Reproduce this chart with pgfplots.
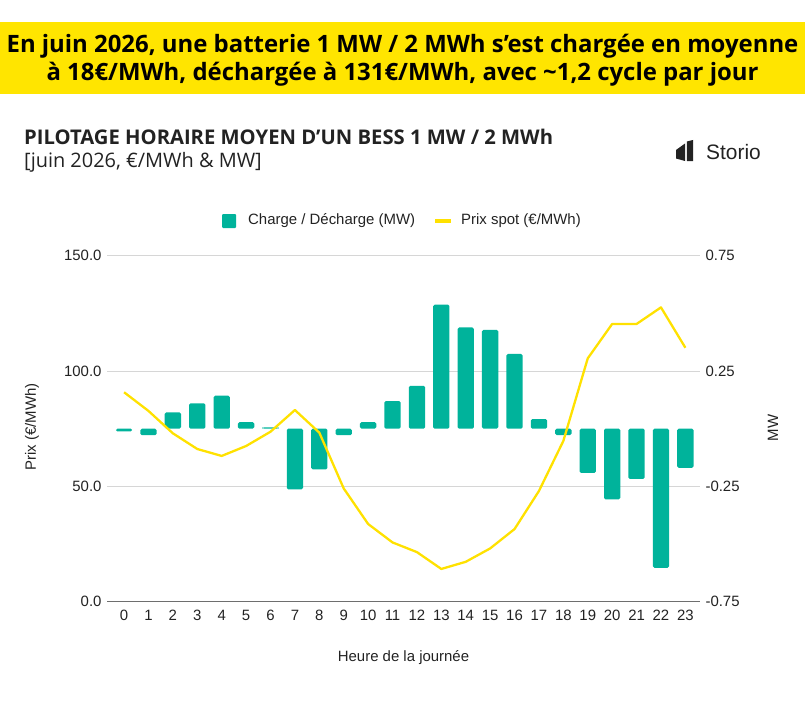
\documentclass[border=0pt]{standalone}
\usepackage{fontspec}
\setmainfont{Liberation Sans}
\newfontfamily\osans{Open Sans}
\usepackage{pgfplots}
\pgfplotsset{compat=1.18}
\usepackage{pgfplotstable}
\definecolor{barc}{HTML}{00B39B}
\definecolor{yel}{HTML}{FFE500}
\definecolor{lyel}{HTML}{FFE100}
\definecolor{gridc}{HTML}{D6D6D6}
\definecolor{txt}{HTML}{222222}
\definecolor{axc}{HTML}{6E6E6E}

\pgfplotstableread{
h mw price
0 -0.012 90.8
1 -0.028 82.7
2 0.071 73.0
3 0.110 66.2
4 0.143 63.2
5 0.028 67.5
6 0.006 73.7
7 -0.263 83.1
8 -0.176 73.3
9 -0.028 49.1
10 0.028 33.7
11 0.120 25.7
12 0.186 21.5
13 0.538 14.2
14 0.439 17.3
15 0.428 23.1
16 0.324 31.5
17 0.042 48.0
18 -0.028 69.7
19 -0.192 105.5
20 -0.306 120.4
21 -0.218 120.4
22 -0.603 127.6
23 -0.170 110.1
}\data

\begin{document}
\begin{tikzpicture}[x=1bp,y=-1bp]
\path[use as bounding box] (0,0) rectangle (805,709);
% banner
\fill[yel] (0,21.7) rectangle (805,94.3);
\node[anchor=base, inner sep=0, font=\osans\bfseries\fontsize{24}{28}\selectfont, text=black] at (402.5,53) {En juin 2026, une batterie 1 MW / 2 MWh s’est chargée en moyenne};
\node[anchor=base, inner sep=0, font=\osans\bfseries\fontsize{24}{28}\selectfont, text=black] at (402.5,81) {à 18€/MWh, déchargée à 131€/MWh, avec \textasciitilde1,2 cycle par jour};
% titles
\node[anchor=base west, inner sep=0, font=\osans\bfseries\fontsize{20.3}{22}\selectfont, text=txt] at (24,145) {PILOTAGE HORAIRE MOYEN D’UN BESS 1 MW / 2 MWh};
\node[anchor=base west, inner sep=0, font=\osans\fontsize{20}{22}\selectfont, text=txt] at (24,167) {[juin 2026, €/MWh \& MW]};
% logo
\fill[txt] (676,150) -- (685,143.5) -- (685,161) -- (676,158.5) -- cycle;
\fill[txt] (686.8,141.5) -- (693,140) -- (693,161) -- (686.8,161) -- cycle;
\node[anchor=base west, inner sep=0, font=\fontsize{21}{21}\selectfont, text=txt] at (706,160) {Storio};
% legend
\fill[barc, rounded corners=1bp] (222,214) rectangle (236,228);
\node[anchor=west, inner sep=0, font=\fontsize{15}{15}\selectfont, text=txt] at (248,221) {Charge / Décharge (MW)};
\draw[lyel, line width=3.5bp] (435,221) -- (451,221);
\node[anchor=west, inner sep=0, font=\fontsize{15}{15}\selectfont, text=txt] at (461,221) {Prix spot (€/MWh)};
% axis titles
\node[rotate=90, inner sep=0, font=\fontsize{15}{15}\selectfont, text=txt] at (32,427) {Prix (€/MWh)};
\node[rotate=90, inner sep=0, font=\fontsize{15}{15}\selectfont, text=txt] at (773,428) {MW};
\node[inner sep=0, font=\fontsize{15}{15}\selectfont, text=txt] at (403.5,658) {Heure de la journée};

\begin{axis}[
  at={(107bp,-601.7bp)}, anchor=south west,
  scale only axis, width=593bp, height=346bp,
  xmin=-0.7, xmax=23.6, ymin=-0.75, ymax=0.75,
  axis y line*=right, axis x line*=bottom,
  axis line style={draw=none},
  major tick length=0pt,
  ytick={-0.75,-0.25,0.25,0.75},
  yticklabels={-0.75,-0.25,0.25,0.75},
  xtick={0,...,23},
  xticklabels={0,1,2,3,4,5,6,7,8,9,10,11,12,13,14,15,16,17,18,19,20,21,22,23},
  ymajorgrids, grid style={gridc, line width=1bp},
  yticklabel style={font=\fontsize{15}{15}\selectfont, text=txt, xshift=2bp},
  xticklabel style={font=\fontsize{15}{15}\selectfont, text=txt, yshift=-5bp},
]
\addplot[ybar, bar width=16.3bp, fill=barc, draw=none, rounded corners=1.5bp] table[x=h,y=mw]{\data};
\draw[axc, line width=1.3bp] (axis cs:-0.7,-0.75) -- (axis cs:23.6,-0.75);
\end{axis}

\begin{axis}[
  at={(107bp,-601.7bp)}, anchor=south west,
  scale only axis, width=593bp, height=346bp,
  xmin=-0.7, xmax=23.6, ymin=0, ymax=150,
  axis y line*=left, axis x line=none,
  axis line style={draw=none},
  major tick length=0pt,
  ytick={0,50,100,150},
  yticklabels={0.0,50.0,100.0,150.0},
  yticklabel style={font=\fontsize{15}{15}\selectfont, text=txt, xshift=-2bp},
]
\addplot[lyel, line width=2.3bp, no markers, line join=round] table[x=h,y=price]{\data};
\end{axis}
\end{tikzpicture}
\end{document}
